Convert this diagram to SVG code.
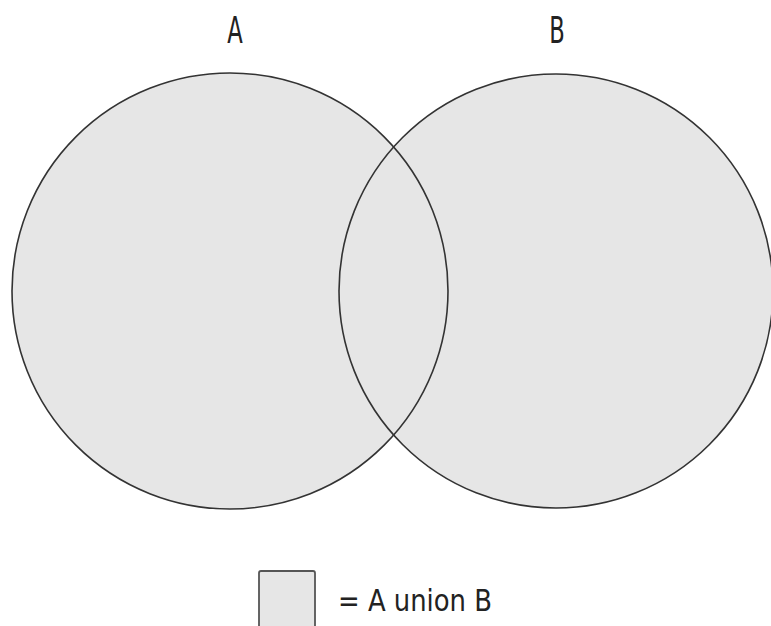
<svg xmlns="http://www.w3.org/2000/svg" width="771" height="626" viewBox="0 0 771 626">
<style>
.fill{fill:#e6e6e6;stroke:none}
.edge{fill:none;stroke:#333;stroke-width:1.6}
.lbl{font-family:"DejaVu Sans Condensed","DejaVu Sans",sans-serif;font-stretch:condensed;fill:#222}
.head{font-size:37px}
.leg{font-size:31px}
</style>
<rect width="771" height="626" fill="#fff"/>
<g id="fills">
<circle class="fill" cx="230" cy="291" r="218"/>
<circle class="fill" cx="556" cy="291" r="217"/>
</g>
<g id="setA">
<circle class="edge" cx="230" cy="291" r="218"/>
<text class="lbl head" x="235" y="43" text-anchor="middle" transform="translate(235 0) scale(0.68 1) translate(-235 0)">A</text>
</g>
<g id="setB">
<circle class="edge" cx="556" cy="291" r="217"/>
<text class="lbl head" x="557" y="43" text-anchor="middle" transform="translate(557 0) scale(0.68 1) translate(-557 0)">B</text>
</g>
<g id="legend">
<rect x="259" y="571" width="56" height="70" rx="2" fill="#e6e6e6" stroke="#555" stroke-width="1.8"/>
<text class="lbl leg" x="338" y="611" textLength="154" lengthAdjust="spacingAndGlyphs">= A union B</text>
</g>
<g id="connectors"></g>
</svg>
